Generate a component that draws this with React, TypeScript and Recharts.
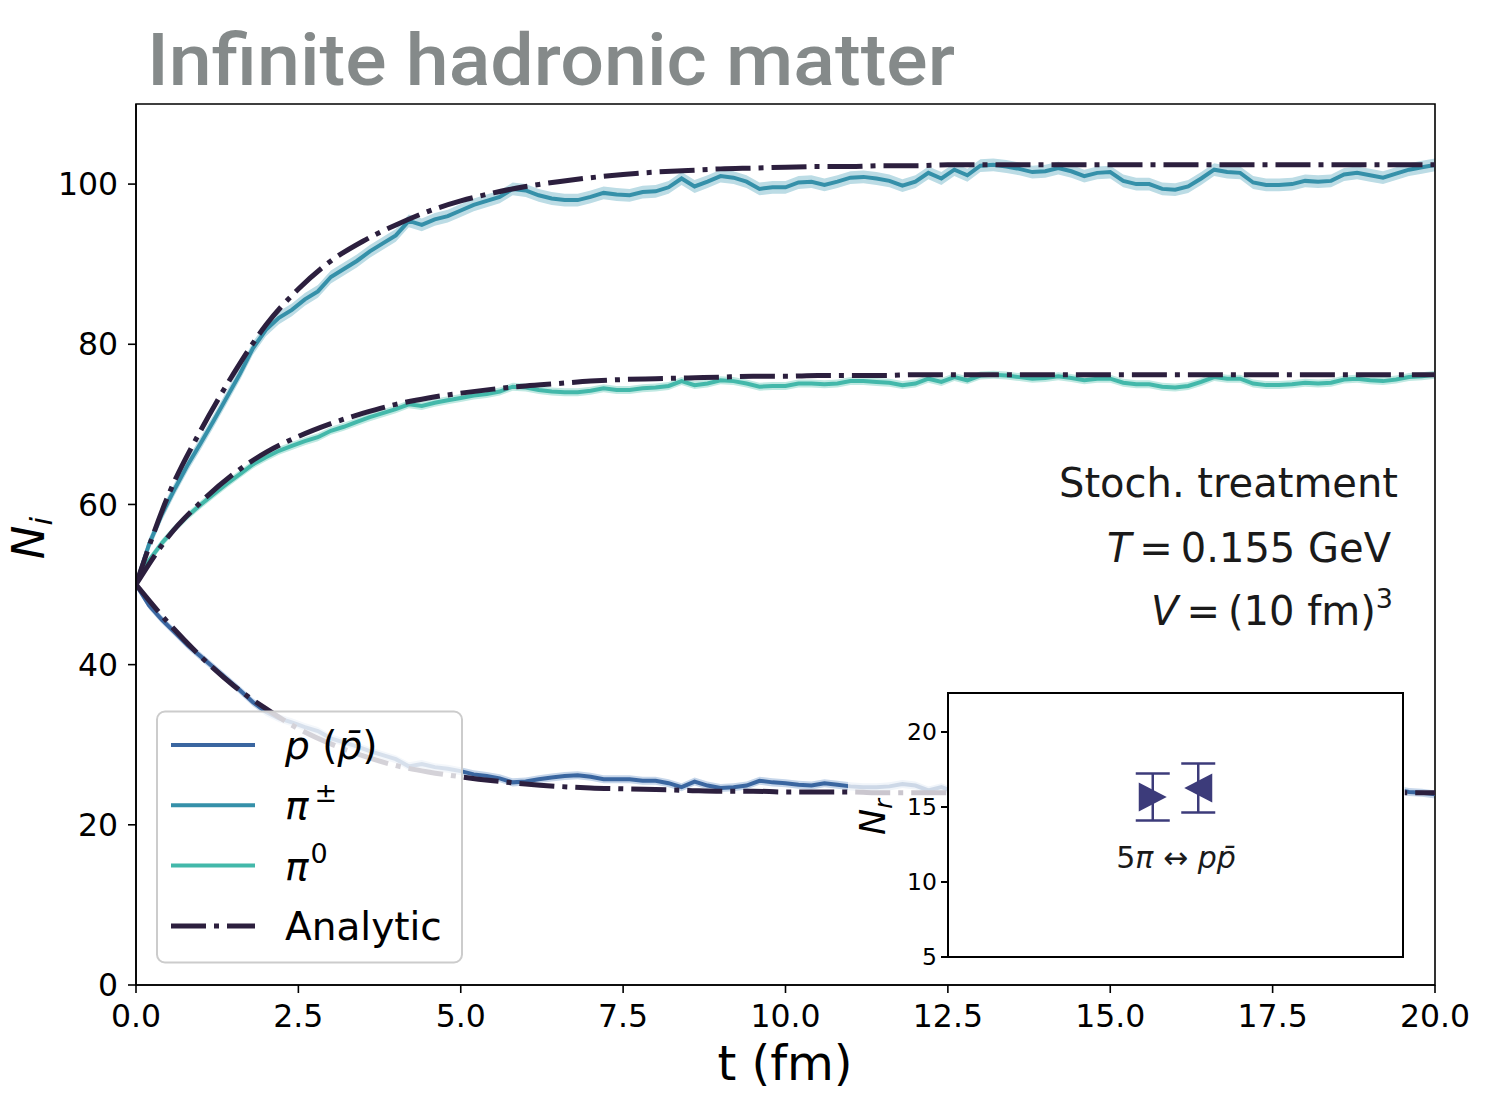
import React from 'react';
import { ComposedChart, Line, Area, XAxis, YAxis, ScatterChart, Scatter, ErrorBar, CartesianGrid, ReferenceArea } from 'recharts';

// simulation output, every 0.2 fm
const SIM_T = [
  0, 0.2, 0.4, 0.6, 0.8, 1, 1.2, 1.4, 1.6, 1.8,
  2, 2.2, 2.4, 2.6, 2.8, 3, 3.2, 3.4, 3.6, 3.8,
  4, 4.2, 4.4, 4.6, 4.8, 5, 5.2, 5.4, 5.6, 5.8,
  6, 6.2, 6.4, 6.6, 6.8, 7, 7.2, 7.4, 7.6, 7.8,
  8, 8.2, 8.4, 8.6, 8.8, 9, 9.2, 9.4, 9.6, 9.8,
  10, 10.2, 10.4, 10.6, 10.8, 11, 11.2, 11.4, 11.6, 11.8,
  12, 12.2, 12.4, 12.6, 12.8, 13, 13.2, 13.4, 13.6, 13.8,
  14, 14.2, 14.4, 14.6, 14.8, 15, 15.2, 15.4, 15.6, 15.8,
  16, 16.2, 16.4, 16.6, 16.8, 17, 17.2, 17.4, 17.6, 17.8,
  18, 18.2, 18.4, 18.6, 18.8, 19, 19.2, 19.4, 19.6, 19.8,
  20,
];

const PIPM_SIM = [
  50, 55.0, 58.8, 62.0, 65.0, 67.7, 70.5, 73.4, 76.3, 79.5,
  81.8, 83.3, 84.3, 85.6, 86.6, 88.4, 89.4, 90.4, 91.6, 92.6,
  93.6, 95.4, 94.9, 95.6, 96.0, 96.7, 97.4, 97.9, 98.4, 99.4,
  99.2, 98.6, 98.2, 98.0, 98.0, 98.4, 98.9, 98.7, 98.6, 99.0,
  99.1, 99.6, 100.7, 99.7, 100.3, 101.0, 100.8, 100.3, 99.4, 99.6,
  99.6, 100.2, 100.3, 99.9, 100.3, 100.8, 100.9, 100.7, 100.4, 99.8,
  100.3, 101.4, 100.7, 101.8, 101.1, 102.3, 102.4, 102.2, 101.9, 101.5,
  101.6, 102.0, 101.6, 101.0, 101.4, 101.5, 100.4, 100.0, 100.0, 99.4,
  99.3, 99.7, 100.7, 101.8, 101.5, 101.4, 100.2, 99.9, 99.9, 100.0,
  100.4, 100.3, 100.4, 101.2, 101.4, 101.1, 100.8, 101.3, 101.8, 102.1,
  102.4,
];

const PI0_SIM = [
  50, 53.0, 55.2, 57.0, 58.6, 60.0, 61.3, 62.6, 63.8, 65.0,
  65.9, 66.7, 67.3, 67.9, 68.4, 69.2, 69.7, 70.3, 70.9, 71.4,
  71.9, 72.5, 72.3, 72.7, 73.0, 73.3, 73.6, 73.8, 74.1, 74.7,
  74.6, 74.3, 74.1, 74.0, 74.0, 74.2, 74.5, 74.3, 74.3, 74.5,
  74.6, 74.8, 75.4, 74.9, 75.1, 75.5, 75.4, 75.1, 74.7, 74.8,
  74.8, 75.1, 75.1, 75.0, 75.1, 75.4, 75.4, 75.3, 75.2, 74.9,
  75.1, 75.7, 75.3, 75.9, 75.5, 76.1, 76.2, 76.1, 75.9, 75.7,
  75.8, 76.0, 75.8, 75.5, 75.7, 75.7, 75.2, 75.0, 75.0, 74.7,
  74.6, 74.8, 75.3, 75.9, 75.7, 75.7, 75.1, 74.9, 74.9, 75.0,
  75.2, 75.1, 75.2, 75.6, 75.7, 75.5, 75.4, 75.6, 75.9, 76.0,
  76.2,
];

const P_SIM = [
  50, 47.4, 45.6, 44.0, 42.4, 41.0, 39.6, 38.2, 36.8, 35.3,
  34.1, 33.3, 32.8, 32.2, 31.7, 30.8, 30.3, 29.8, 29.2, 28.7,
  28.2, 27.3, 27.6, 27.2, 27.0, 26.7, 26.3, 26.1, 25.8, 25.3,
  25.4, 25.7, 25.9, 26.1, 26.2, 26.0, 25.7, 25.7, 25.7, 25.5,
  25.5, 25.2, 24.7, 25.4, 24.9, 24.6, 24.7, 24.9, 25.5, 25.3,
  25.2, 25.0, 24.9, 25.2, 25.0, 24.8, 24.7, 24.7, 24.8, 25.1,
  24.9, 24.3, 24.7, 24.1, 24.5, 23.9, 23.8, 23.9, 24.1, 24.3,
  24.2, 24.0, 24.2, 24.5, 24.3, 24.3, 24.8, 25.0, 25.0, 25.3,
  25.4, 25.2, 24.7, 24.1, 24.3, 24.3, 24.9, 25.1, 25.1, 25.0,
  24.8, 24.9, 24.8, 24.4, 24.3, 24.5, 24.6, 24.4, 24.1, 24.0,
  23.8,
];

// half-width of the shaded uncertainty bands
const PIPM_ERR = 0.8;
const PI0_ERR = 0.5;
const P_ERR = 0.5;

// analytic solution, every 0.5 fm
const ANA_T = [
  0, 0.5, 1, 1.5, 2, 2.5, 3, 3.5, 4, 4.5, 5, 5.5, 6, 6.5, 7, 7.5, 8, 8.5, 9, 9.5,
  10, 10.5, 11, 11.5, 12, 12.5, 13, 13.5, 14, 14.5, 15, 15.5, 16, 16.5, 17, 17.5,
  18, 18.5, 19, 19.5, 20,
];
const PIPM_ANA = [
  50, 61.2, 69.3, 76.3, 82.4, 86.9, 90.4, 92.9, 94.9, 96.6, 97.9, 98.9, 99.7, 100.3, 100.8, 101.2,
  101.5, 101.7, 101.9, 102.0, 102.1, 102.2, 102.2, 102.3, 102.3, 102.4, 102.4, 102.4, 102.4, 102.4,
  102.4, 102.4, 102.4, 102.4, 102.4, 102.4, 102.4, 102.4, 102.4, 102.4, 102.4,
];
const PI0_ANA = [
  50, 56.0, 60.3, 63.8, 66.5, 68.5, 70.1, 71.4, 72.5, 73.3, 73.9, 74.4, 74.8, 75.1, 75.4, 75.6,
  75.7, 75.8, 75.9, 76.0, 76.0, 76.1, 76.1, 76.1, 76.2, 76.2, 76.2, 76.2, 76.2, 76.2,
  76.2, 76.2, 76.2, 76.2, 76.2, 76.2, 76.2, 76.2, 76.2, 76.2, 76.2,
];
const P_ANA = [
  50, 45.2, 41.0, 37.4, 34.5, 32.0, 30.1, 28.6, 27.4, 26.6, 26.0, 25.5, 25.1, 24.8, 24.6, 24.5,
  24.4, 24.3, 24.2, 24.2, 24.1, 24.1, 24.1, 24.0, 24.0, 24.0, 24.0, 24.0, 24.0, 24.0,
  24.0, 24.0, 24.0, 24.0, 24.0, 24.0, 24.0, 24.0, 24.0, 24.0, 24.0,
];

const X_TICKS = [0, 2.5, 5, 7.5, 10, 12.5, 15, 17.5, 20];
const Y_TICKS = [0, 20, 40, 60, 80, 100];

// inset: reaction counts N_r
const INSET_X = [0.9, 1.1];
const INSET_NR = [15.67, 16.27];
const INSET_ERR = [1.57, 1.63];
const INSET_TICKS = [5, 10, 15, 20];

const C_P = '#3a66a0';
const C_PIPM = '#3590a9';
const C_PI0 = '#43b8aa';
const C_ANA = '#2c1f3e';
const C_MARK = '#3c3b7a';
const FONT = 'DejaVu Sans';

const simData = SIM_T.map((t, i) => ({
  t,
  p: P_SIM[i],
  pm: PIPM_SIM[i],
  p0: PI0_SIM[i],
  pBand: [P_SIM[i] - P_ERR, P_SIM[i] + P_ERR],
  pmBand: [PIPM_SIM[i] - PIPM_ERR, PIPM_SIM[i] + PIPM_ERR],
  p0Band: [PI0_SIM[i] - PI0_ERR, PI0_SIM[i] + PI0_ERR],
}));

const anaData = ANA_T.map((t, i) => ({ t, p: P_ANA[i], pm: PIPM_ANA[i], p0: PI0_ANA[i] }));

const fwdData = [{ x: INSET_X[0], y: INSET_NR[0], err: INSET_ERR[0] }];
const bwdData = [{ x: INSET_X[1], y: INSET_NR[1], err: INSET_ERR[1] }];

const RightTri = (props: any) => {
  const { cx, cy } = props;
  return <polygon points={`${cx - 14},${cy - 14.5} ${cx - 14},${cy + 14.5} ${cx + 14},${cy}`} fill={C_MARK} />;
};
const LeftTri = (props: any) => {
  const { cx, cy } = props;
  return <polygon points={`${cx + 14},${cy - 14.5} ${cx + 14},${cy + 14.5} ${cx - 14},${cy}`} fill={C_MARK} />;
};

const tickStyle = { fill: '#000', fontSize: 31.5, fontFamily: FONT };
const DASH = '35 8 5 8';
const THIN = '\u2009';

const LEGEND = [
  { key: 'p', color: C_P, dash: undefined },
  { key: 'pm', color: C_PIPM, dash: undefined },
  { key: 'p0', color: C_PI0, dash: undefined },
  { key: 'ana', color: C_ANA, dash: DASH },
];

function legendLabel(key: string, x: number, y: number) {
  const common = { x, y, fontSize: 39, fontFamily: FONT, fill: '#000' };
  if (key === 'p')
    return (
      <text {...common}>
        <tspan fontStyle="italic">p</tspan>
        <tspan> (</tspan>
        <tspan fontStyle="italic">p̄</tspan>
        <tspan>)</tspan>
      </text>
    );
  if (key === 'pm')
    return (
      <text {...common}>
        <tspan fontStyle="italic">π</tspan>
        <tspan fontSize={27} dx={6} dy={-17}>±</tspan>
      </text>
    );
  if (key === 'p0')
    return (
      <text {...common}>
        <tspan fontStyle="italic">π</tspan>
        <tspan fontSize={27} dx={2} dy={-17}>0</tspan>
      </text>
    );
  return <text {...common}>Analytic</text>;
}

export default function App() {
  return (
    <div style={{ position: 'absolute', left: 0, top: 0, width: 1485, height: 1109, background: '#fff' }}>
      <ComposedChart width={1485} height={1109} data={simData} margin={{ top: 104, right: 50, bottom: 0, left: 0 }}>
        <XAxis
          dataKey="t"
          type="number"
          domain={[0, 20]}
          ticks={X_TICKS}
          interval={0}
          tickFormatter={(v: number) => v.toFixed(1)}
          height={124}
          tickSize={8}
          tickMargin={12}
          stroke="#000"
          strokeWidth={1.6}
          tick={tickStyle}
          allowDataOverflow
        />
        <YAxis
          type="number"
          domain={[0, 110]}
          ticks={Y_TICKS}
          interval={0}
          width={136}
          tickSize={8}
          tickMargin={10}
          stroke="#000"
          strokeWidth={1.6}
          tick={tickStyle}
          allowDataOverflow
        />

        <Area dataKey="pBand" type="linear" stroke="none" fill="#c6d6ea" fillOpacity={1} isAnimationActive={false} activeDot={false} />
        <Area dataKey="pmBand" type="linear" stroke="none" fill="#bcdce5" fillOpacity={1} isAnimationActive={false} activeDot={false} />
        <Area dataKey="p0Band" type="linear" stroke="none" fill="#c0e9e2" fillOpacity={1} isAnimationActive={false} activeDot={false} />

        <Line dataKey="p" type="linear" stroke={C_P} strokeWidth={4} dot={false} activeDot={false} isAnimationActive={false} />
        <Line dataKey="pm" type="linear" stroke={C_PIPM} strokeWidth={4} dot={false} activeDot={false} isAnimationActive={false} />
        <Line dataKey="p0" type="linear" stroke={C_PI0} strokeWidth={4} dot={false} activeDot={false} isAnimationActive={false} />

        <Line data={anaData} dataKey="p" type="monotone" stroke={C_ANA} strokeWidth={5} strokeDasharray={DASH} dot={false} activeDot={false} isAnimationActive={false} />
        <Line data={anaData} dataKey="pm" type="monotone" stroke={C_ANA} strokeWidth={5} strokeDasharray={DASH} dot={false} activeDot={false} isAnimationActive={false} />
        <Line data={anaData} dataKey="p0" type="monotone" stroke={C_ANA} strokeWidth={5} strokeDasharray={DASH} dot={false} activeDot={false} isAnimationActive={false} />

        {/* axes frame */}
        <ReferenceArea x1={0} x2={20} y1={0} y2={110} fill="none" fillOpacity={0} stroke="#000" strokeWidth={1.6} ifOverflow="visible" />
      </ComposedChart>

      {/* inset */}
      <div style={{ position: 'absolute', left: 848, top: 680, width: 557, height: 297, background: 'rgba(255,255,255,0.75)' }}>
        <ScatterChart width={557} height={297} margin={{ top: 13, right: 2, bottom: 20, left: 0 }}>
          <CartesianGrid fill="#fff" horizontal={false} vertical={false} />
          <XAxis dataKey="x" type="number" domain={[0, 2]} height={0} tick={false} tickLine={false} axisLine={false} />
          <YAxis
            dataKey="y"
            type="number"
            domain={[5, 22.6]}
            ticks={INSET_TICKS}
            interval={0}
            width={100}
            tickSize={7}
            tickMargin={4}
            stroke="#000"
            strokeWidth={2}
            tick={{ fill: '#000', fontSize: 23.5, fontFamily: FONT }}
            allowDataOverflow
          />
          <ReferenceArea x1={0} x2={2} y1={5} y2={22.6} fill="none" fillOpacity={0} stroke="#000" strokeWidth={2} ifOverflow="visible" />
          <Scatter data={fwdData} shape={RightTri} fill={C_MARK} isAnimationActive={false}>
            <ErrorBar dataKey="err" direction="y" width={17} stroke={C_MARK} strokeWidth={2.5} />
          </Scatter>
          <Scatter data={bwdData} shape={LeftTri} fill={C_MARK} isAnimationActive={false}>
            <ErrorBar dataKey="err" direction="y" width={17} stroke={C_MARK} strokeWidth={2.5} />
          </Scatter>
        </ScatterChart>
      </div>

      {/* titles, labels, legend */}
      <svg width={1485} height={1109} style={{ position: 'absolute', left: 0, top: 0, pointerEvents: 'none' }}>
        <text x={147} y={85} fontFamily="Roboto" fontWeight={500} fontSize={73} fill="#858a8a" textLength={808} lengthAdjust="spacingAndGlyphs">
          Infinite hadronic matter
        </text>

        <text x={785} y={1080} textAnchor="middle" fontFamily={FONT} fontSize={48} fill="#000">t (fm)</text>
        <text transform="translate(44,538) rotate(-90)" textAnchor="middle" fontFamily={FONT} fontSize={45} fill="#000">
          <tspan fontStyle="italic">N</tspan>
          <tspan fontStyle="italic" fontSize={31} dy={8}>i</tspan>
        </text>

        <g fontFamily={FONT} fontSize={40} fill="#1a1a1a" textAnchor="end">
          <text x={1398} y={497}>Stoch. treatment</text>
          <text x={1391} y={562}>
            <tspan fontStyle="italic">T</tspan>
            <tspan>{`${THIN}=${THIN}0.155 GeV`}</tspan>
          </text>
          <text x={1393} y={625}>
            <tspan fontStyle="italic">V</tspan>
            <tspan>{`${THIN}=${THIN}(10 fm)`}</tspan>
            <tspan fontSize={27} dy={-17}>3</tspan>
          </text>
        </g>

        <text transform="translate(885,817) rotate(-90)" textAnchor="middle" fontFamily={FONT} fontSize={35} fill="#000">
          <tspan fontStyle="italic">N</tspan>
          <tspan fontStyle="italic" fontSize={24} dy={7}>r</tspan>
        </text>
        <text x={1176} y={868} textAnchor="middle" fontFamily={FONT} fontSize={30} fill="#1a1a1a">
          <tspan>5</tspan>
          <tspan fontStyle="italic">π</tspan>
          <tspan> ↔ </tspan>
          <tspan fontStyle="italic">pp̄</tspan>
        </text>

        <rect x={157} y={711.5} width={305} height={251} rx={8} fill="#fff" fillOpacity={0.8} stroke="#cccccc" strokeWidth={2} />
        {LEGEND.map((e, i) => (
          <g key={e.key}>
            <line x1={171} x2={255} y1={745 + i * 60.3} y2={745 + i * 60.3} stroke={e.color} strokeWidth={e.dash ? 5 : 4} strokeDasharray={e.dash} />
            {legendLabel(e.key, 285, 759 + i * 60.3)}
          </g>
        ))}
      </svg>
    </div>
  );
}
